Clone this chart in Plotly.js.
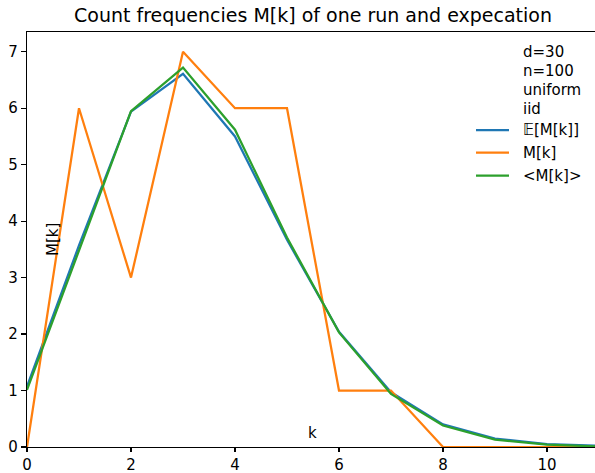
<!DOCTYPE html>
<html>
<head>
<meta charset="utf-8">
<script src="https://cdn.plot.ly/plotly-3.0.1.min.js"></script>
<style>html,body{margin:0;padding:0;background:#fff;}#chart{width:595px;height:473px;}</style>
</head>
<body>
<div id="chart"></div>
<script>
const k = [0, 1, 2, 3, 4, 5, 6, 7, 8, 9, 10, 11];
const expected = [1.07, 3.57, 5.94, 6.61, 5.50, 3.67, 2.04, 0.97, 0.40, 0.15, 0.05, 0.02];
const oneRun = [0, 6, 3, 7, 6, 6, 1, 1, 0, 0, 0, 0];
const averaged = [1.01, 3.49, 5.95, 6.72, 5.62, 3.71, 2.03, 0.94, 0.38, 0.13, 0.04, 0.01];
const seriesNames = ['\u{1D53C}[M[k]]', 'M[k]', '<M[k]>'];
const seriesColors = ['#1f77b4', '#ff7f0e', '#2ca02c'];
const infoLines = ['d=30', 'n=100', 'uniform', 'iid'];
const xTicks = [0, 2, 4, 6, 8, 10];
const yTicks = [0, 1, 2, 3, 4, 5, 6, 7];

const W = 595, H = 473;
const L = 27, R = 0, T = 32, B = 26;
const pw = W - L - R, ph = H - T - B;
const px = x => (x - L) / pw;
const py = y => (H - B - y) / ph;

const font = 'DejaVu Sans, sans-serif';
const fs = 15;
const lw = 2.25;
const series = [expected, oneRun, averaged];
const traces = series.map((ys, i) => ({
  x: k, y: ys, name: seriesNames[i], mode: 'lines', line: {color: seriesColors[i], width: lw}
}));

const infoY = [52, 71, 90, 109];
const annotations = infoLines.map((t, i) => ({
  text: t, xref: 'paper', yref: 'paper', x: px(521), y: py(infoY[i]),
  xanchor: 'left', yanchor: 'middle', showarrow: false, font: {family: font, size: fs, color: '#000'}
}));
const legY = [130, 152.5, 175.5];
const shapes = [];
seriesNames.forEach((n, i) => {
  annotations.push({text: n.replace(/</g, '&lt;').replace(/>/g, '&gt;'), xref: 'paper', yref: 'paper', x: px(521), y: py(legY[i]),
    xanchor: 'left', yanchor: 'middle', showarrow: false, font: {family: font, size: fs, color: '#000'}});
  shapes.push({type: 'line', xref: 'paper', yref: 'paper', x0: px(476), x1: px(509), y0: py(legY[i]), y1: py(legY[i]),
    line: {color: seriesColors[i], width: lw}});
});
annotations.push({text: 'M[k]', xref: 'paper', yref: 'paper', x: px(53), y: py(240), textangle: -90,
  xanchor: 'center', yanchor: 'middle', showarrow: false, font: {family: font, size: fs, color: '#000'}});
annotations.push({text: 'k', xref: 'paper', yref: 'paper', x: px(312), y: py(433),
  xanchor: 'center', yanchor: 'middle', showarrow: false, font: {family: font, size: fs, color: '#000'}});

const layout = {
  width: W, height: H,
  margin: {l: L, r: R, t: T, b: B, pad: 0},
  paper_bgcolor: '#fff', plot_bgcolor: '#fff',
  font: {family: font, size: fs, color: '#000'},
  title: {text: 'Count frequencies M[k] of one run and expecation', xref: 'container', x: 313 / W, xanchor: 'center',
    yref: 'container', y: 1 - 15 / H, yanchor: 'middle', font: {family: font, size: 19, color: '#000'}},
  showlegend: false,
  xaxis: {range: [0, (W - L) / 52], tickvals: xTicks, ticktext: xTicks.map(String), showgrid: false, zeroline: false,
    showline: true, linecolor: '#000', linewidth: 1.2, mirror: true, ticks: 'outside', ticklen: 4, tickwidth: 1.2, tickcolor: '#000',
    tickfont: {family: font, size: fs, color: '#000'}},
  yaxis: {range: [0, 7.35], tickvals: yTicks, ticktext: yTicks.map(String), showgrid: false, zeroline: false,
    showline: true, linecolor: '#000', linewidth: 1.2, ticks: 'outside', ticklen: 5, tickwidth: 1.2, tickcolor: '#000',
    tickfont: {family: font, size: fs, color: '#000'}},
  shapes: shapes,
  annotations: annotations
};

Plotly.newPlot('chart', traces, layout, {displayModeBar: false, staticPlot: true});
</script>
</body>
</html>
